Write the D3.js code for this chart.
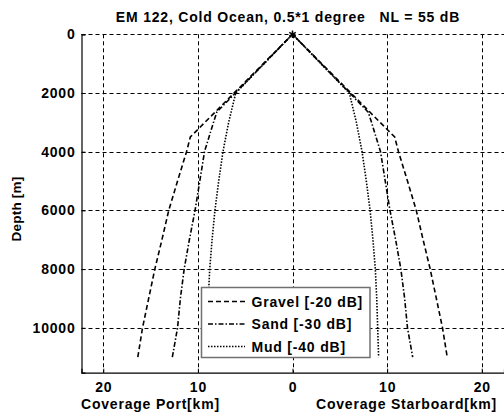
<!DOCTYPE html>
<html>
<head>
<meta charset="utf-8">
<script src="https://cdn.jsdelivr.net/npm/d3@7"></script>
<style>
  html, body { margin: 0; padding: 0; background: #fff; }
  svg text { font-family: "Liberation Sans", Arial, sans-serif; font-weight: bold; font-size: 14px; letter-spacing: 0.8px; fill: #000; }
</style>
</head>
<body>
<svg id="chart" width="504" height="416"></svg>
<script>
// Swath coverage (km, each side) against water depth (m) per seabed type
const mudDepth    = [0, 2000, 3000, 4000, 5000, 6000, 7000, 8000, 9000, 10000, 11000];
const mudRange    = [0, 6.0, 6.75, 7.35, 7.8, 8.2, 8.5, 8.75, 8.9, 9.0, 9.1];
const sandDepth   = [0, 2650, 3000, 4000, 5000, 6000, 7000, 8000, 9000, 10000, 11000];
const sandRange   = [0, 8.0, 8.35, 9.3, 9.8, 10.3, 10.9, 11.45, 11.85, 12.15, 12.7];
const gravelDepth = [0, 3500, 4000, 5000, 6000, 7000, 8000, 9000, 10000, 11000];
const gravelRange = [0, 10.8, 11.2, 12.15, 13.08, 13.8, 14.55, 15.2, 15.85, 16.35];

const seriesNames = ["Gravel [-20 dB]", "Sand [-30 dB]", "Mud [-40 dB]"];
const depthTicks  = [0, 2000, 4000, 6000, 8000, 10000];
const rangeTicks  = [-20, -10, 0, 10, 20];

const titleText = "EM 122, Cold Ocean, 0.5*1 degree   NL = 55 dB";

const series = [
  { name: seriesNames[0], depth: gravelDepth, range: gravelRange, dash: "5,3" },
  { name: seriesNames[1], depth: sandDepth,   range: sandRange,   dash: "5,2,1.5,2" },
  { name: seriesNames[2], depth: mudDepth,    range: mudRange,    dash: "1.5,1.5" }
];

const svg = d3.select("#chart");
const plotL = 81.5, plotT = 34.3, plotB = 372.7, plotR = 504;

const x = d3.scaleLinear().domain([-22.3, 22.35]).range([plotL, plotR]);
const y = d3.scaleLinear().domain([0, 11530]).range([plotT, plotB]);

// grid
const grid = svg.append("g").attr("stroke", "#000").attr("stroke-width", 1)
  .attr("stroke-dasharray", "4,3").attr("fill", "none");
depthTicks.forEach(d => {
  grid.append("line").attr("x1", plotL).attr("x2", plotR)
    .attr("y1", Math.round(y(d)) + 0.5).attr("y2", Math.round(y(d)) + 0.5);
});
rangeTicks.forEach(r => {
  grid.append("line").attr("y1", plotT).attr("y2", plotB)
    .attr("x1", Math.round(x(r)) + 0.5).attr("x2", Math.round(x(r)) + 0.5);
});

// axes
const yAxis = d3.axisLeft(y).tickValues(depthTicks).tickSize(-4).tickPadding(6).tickFormat(d3.format("d"));
const gy = svg.append("g").attr("transform", `translate(${plotL},0)`).call(yAxis);
gy.select(".domain").attr("stroke", "#000").attr("stroke-width", 1.2);
gy.selectAll("text").attr("font-size", null).attr("font-family", null);

const xAxis = d3.axisBottom(x).tickValues(rangeTicks).tickSize(-4).tickPadding(9).tickFormat(d => Math.abs(d));
const gx = svg.append("g").attr("transform", `translate(0,${plotB})`).call(xAxis);
gx.select(".domain").attr("stroke", "#000").attr("stroke-width", 1.2);
gx.selectAll("text").attr("font-size", null).attr("font-family", null);

// coverage curves, port side mirrored to negative ranges
const line = d3.line().x(p => x(p[0])).y(p => y(p[1]));
series.forEach(s => {
  const starboard = s.depth.map((d, i) => [s.range[i], d]);
  const port = s.depth.map((d, i) => [-s.range[i], d]).reverse();
  svg.append("path")
    .attr("d", line(port.concat(starboard.slice(1))))
    .attr("fill", "none").attr("stroke", "#000").attr("stroke-width", 1.6)
    .attr("stroke-dasharray", s.dash);
});

// vessel position
svg.append("path")
  .attr("d", d3.symbol(d3.symbolAsterisk, 40)())
  .attr("transform", `translate(${x(0)},${y(0)})`)
  .attr("stroke", "#000").attr("stroke-width", 1.5).attr("fill", "none");

// title and axis titles
svg.append("text").attr("x", 288).attr("y", 22).attr("text-anchor", "middle")
  .style("white-space", "pre").text(titleText);
svg.append("text").attr("transform", "translate(21,209) rotate(-90)").attr("text-anchor", "middle")
  .style("font-size", "13.5px").style("letter-spacing", "0.2px")
  .text("Depth [m]");
svg.append("text").attr("x", 81).attr("y", 409).text("Coverage Port[km]");
svg.append("text").attr("x", 497).attr("y", 409).attr("text-anchor", "end").text("Coverage Starboard[km]");

// legend
const lg = svg.append("g");
lg.append("rect").attr("x", 201.5).attr("y", 287.5).attr("width", 168.5).attr("height", 70)
  .attr("fill", "#fff").attr("stroke", "#707070").attr("stroke-width", 1.5);
series.forEach((s, i) => {
  const cy = 301.5 + i * 22.5;
  lg.append("line").attr("x1", 208).attr("x2", 245).attr("y1", cy).attr("y2", cy)
    .attr("stroke", "#000").attr("stroke-width", 1.6).attr("stroke-dasharray", s.dash);
  lg.append("text").attr("x", 251.5).attr("y", cy + 5).text(s.name);
});
</script>
</body>
</html>
